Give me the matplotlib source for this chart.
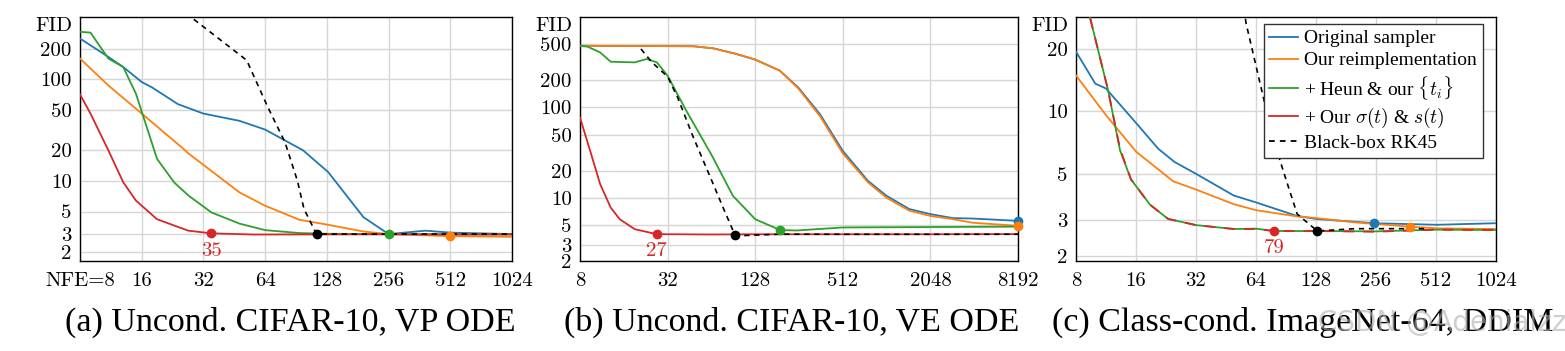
import matplotlib
matplotlib.use("Agg")
import matplotlib.pyplot as plt
from matplotlib.lines import Line2D
from matplotlib.ticker import FixedLocator, NullLocator

plt.rcParams['font.family'] = ['Liberation Serif', 'DejaVu Serif']
plt.rcParams['mathtext.fontset'] = 'cm'

BLUE, ORANGE, GREEN, RED = '#1f77b4', '#ff7f0e', '#2ca02c', '#d62728'

# ---- (a) Uncond. CIFAR-10, VP ODE
a_blue_x = [8, 11, 13, 16, 18, 24, 32, 48, 64, 98, 130, 193, 256, 387, 512, 1024]
a_blue_y = [252, 166, 132, 94, 83, 57, 46, 39, 32, 20, 12.2, 4.4, 3.0, 3.24, 3.1, 3.0]
a_orange_x = [8, 11, 16, 25, 27, 48, 64, 94, 130, 193, 256, 512, 1024]
a_orange_y = [160, 87, 46, 21.5, 18.7, 7.7, 5.7, 4.15, 3.7, 3.18, 3.0, 2.86, 2.82]
a_green_x = [8, 9, 11, 13, 15, 19, 23, 27, 35, 48, 64, 94, 128, 256, 512, 1024]
a_green_y = [293, 288, 160, 132, 72, 16.5, 9.7, 7.2, 4.9, 3.8, 3.28, 3.07, 3.02, 3.0, 2.98, 2.97]
a_red_x = [8, 9, 11, 13, 15, 19, 27, 35, 56, 128, 256, 512, 1024]
a_red_y = [71, 46, 20, 9.7, 6.4, 4.2, 3.24, 3.05, 2.97, 2.98, 2.98, 2.98, 2.98]
a_rk_x = [22, 28, 52, 66, 80, 92, 99, 114, 256, 512, 1024]
a_rk_y = [590, 405, 154, 53, 24, 10, 5.3, 3.0, 3.0, 3.0, 3.0]
a_best = {'blue': None, 'orange': (512, 2.86), 'green': (256, 3.0),
          'red': (35, 3.05), 'rk': (114, 3.0)}

# ---- (b) Uncond. CIFAR-10, VE ODE
b_blue_x = [8, 48, 66, 95, 128, 189, 253, 357, 512, 763, 1024, 1470, 2048, 2930, 4000, 8192]
b_blue_y = [480, 475, 450, 390, 338, 255, 166, 84, 33, 15.4, 10.5, 7.5, 6.6, 5.96, 5.9, 5.56]
b_orange_x = b_blue_x
b_orange_y = [480, 475, 450, 390, 338, 255, 162, 80, 31, 14.8, 10.0, 7.2, 6.3, 5.8, 5.3, 4.9]
b_green_x = [8, 9, 11, 13, 19, 23, 27, 32, 43, 64, 90, 128, 190, 246, 512, 8192]
b_green_y = [480, 470, 406, 320, 315, 343, 315, 224, 92, 30, 10.5, 5.8, 4.4, 4.35, 4.7, 4.8]
b_red_x = [8, 9.4, 11, 13, 15, 19, 27, 64, 128, 512, 2048, 8192]
b_red_y = [77, 33, 14.2, 7.8, 5.8, 4.5, 3.96, 3.93, 3.95, 3.95, 3.95, 3.97]
b_rk_x = [21, 25, 32, 37.5, 48, 63, 77, 93, 110, 190, 512, 8192]
b_rk_y = [443, 315, 219, 129, 47, 16.8, 7.8, 3.86, 3.83, 3.96, 3.95, 3.95]
b_best = {'blue': (8192, 5.56), 'orange': (8192, 4.9), 'green': (190, 4.4),
          'red': (27, 3.96), 'rk': (93, 3.86)}

# ---- (c) Class-cond. ImageNet-64, DDIM
c_blue_x = [8, 10, 11.3, 16, 20.7, 25, 32, 49.5, 64, 102, 128, 251, 518, 1024]
c_blue_y = [19.4, 13.6, 12.9, 8.8, 6.6, 5.7, 5.0, 3.93, 3.64, 3.14, 3.03, 2.89, 2.84, 2.89]
c_orange_x = [8, 11.3, 16, 24.6, 32, 49.5, 64, 102, 128, 198, 381, 518, 1024]
c_orange_y = [14.9, 9.6, 6.4, 4.6, 4.2, 3.57, 3.34, 3.12, 3.06, 2.92, 2.78, 2.73, 2.71]
c_green_x = [8, 9.4, 11.6, 13.3, 15.1, 18.8, 23.2, 32, 49.5, 64, 79, 128, 256, 512, 1024]
c_green_y = [53, 28.4, 12.6, 6.5, 4.7, 3.55, 3.03, 2.83, 2.71, 2.72, 2.65, 2.65, 2.64, 2.69, 2.68]
c_red_x = c_green_x
c_red_y = [53, 28.4, 12.6, 6.6, 4.7, 3.55, 3.03, 2.83, 2.71, 2.71, 2.65, 2.65, 2.63, 2.69, 2.68]
c_rk_x = [54, 57, 71.5, 84.4, 92, 103, 130, 200, 450]
c_rk_y = [40, 26.7, 10.5, 5.8, 4.47, 3.2, 2.65, 2.72, 2.72]
c_best = {'blue': (251, 2.89), 'orange': (381, 2.78), 'green': None,
          'red': (79, 2.65), 'rk': (130, 2.65)}

panels = [
    dict(rect=[80, 0, 432], x=[8, 1024], y=(1.63, 410), cap_x=290,
         xticks=[8, 16, 32, 64, 128, 256, 512, 1024], yticks=[2, 3, 5, 10, 20, 50, 100, 200],
         series=[(a_blue_x, a_blue_y), (a_orange_x, a_orange_y), (a_green_x, a_green_y),
                 (a_red_x, a_red_y), (a_rk_x, a_rk_y)], best=a_best, redlabel='35',
         caption='(a) Uncond. CIFAR-10, VP ODE'),
    dict(rect=[580, 0, 438], x=[8, 8192], y=(2, 1000), cap_x=792,
         xticks=[8, 32, 128, 512, 2048, 8192], yticks=[2, 3, 5, 10, 20, 50, 100, 200, 500],
         series=[(b_blue_x, b_blue_y), (b_orange_x, b_orange_y), (b_green_x, b_green_y),
                 (b_red_x, b_red_y), (b_rk_x, b_rk_y)], best=b_best, redlabel='27',
         caption='(b) Uncond. CIFAR-10, VE ODE'),
    dict(rect=[1076, 0, 420], x=[8, 1024], y=(1.9, 28.5), cap_x=1303,
         xticks=[8, 16, 32, 64, 128, 256, 512, 1024], yticks=[2, 3, 5, 10, 20],
         series=[(c_blue_x, c_blue_y), (c_orange_x, c_orange_y), (c_green_x, c_green_y),
                 (c_red_x, c_red_y), (c_rk_x, c_rk_y)], best=c_best, redlabel='79',
         caption='(c) Class-cond. ImageNet-64, DDIM'),
]

W, H = 1565, 351
fig = plt.figure(figsize=(W / 100, H / 100), dpi=100)

tick_font = dict(family='cmr10', size=15)
colors = [BLUE, ORANGE, GREEN, RED, 'black']
keys = ['blue', 'orange', 'green', 'red', 'rk']
dash = (0, (3.2, 2.8))

for i, p in enumerate(panels):
    left = p['rect'][0]
    width = p['rect'][2]
    ax = fig.add_axes([left / W, (H - 261) / H, width / W, 244 / H])
    ax.set_xscale('log', base=2)
    ax.set_yscale('log')
    ax.set_xlim(*p['x'])
    ax.set_ylim(*p['y'])
    ax.xaxis.set_major_locator(FixedLocator(p['xticks']))
    ax.yaxis.set_major_locator(FixedLocator(p['yticks']))
    ax.xaxis.set_minor_locator(NullLocator())
    ax.yaxis.set_minor_locator(NullLocator())
    xl = [str(v) for v in p['xticks']]
    if i == 0:
        xl[0] = 'NFE=8'
    ax.set_xticklabels(xl, fontdict=tick_font)
    ax.set_yticklabels([str(v) for v in p['yticks']], fontdict=tick_font)
    ax.tick_params(axis='x', length=0, pad=8)
    ax.tick_params(axis='y', length=0, pad=6)
    ax.grid(True, color='#d6d6d6', linewidth=1.0)
    ax.set_axisbelow(True)
    for s in ax.spines.values():
        s.set_linewidth(1.0)
    ax.text(-0.018, 0.965, 'FID', transform=ax.transAxes, ha='right', va='center',
            fontdict=tick_font)

    for j, ((xs, ys), col, key) in enumerate(zip(p['series'], colors, keys)):
        if key == 'rk':
            ax.plot(xs, ys, color=col, lw=1.2, linestyle=dash, zorder=5)
        elif key == 'red' and i == 2:
            ax.plot(xs, ys, color=col, lw=1.3, linestyle=(0, (6, 5)), zorder=4)
        else:
            ax.plot(xs, ys, color=col, lw=1.3, zorder=3 + j * 0.1)
        b = p['best'][key]
        if b is not None:
            ax.plot([b[0]], [b[1]], 'o', color=col, ms=6, zorder=6, clip_on=False)
    rb = p['best']['red']
    ax.annotate(p['redlabel'], rb, xytext=(0, -6), textcoords='offset points',
                ha='center', va='top', color=RED, fontfamily='cmr10', fontsize=15)

    fig.text(p['cap_x'] / W, (H - 322) / H, p['caption'], ha='center', va='center',
             fontsize=24.5)

    if i == 2:
        handles = [Line2D([], [], color=c, lw=1.3) for c in colors[:4]]
        handles.append(Line2D([], [], color='black', lw=1.3, linestyle=dash))
        labels = ['Original sampler', 'Our reimplementation', r'+ Heun & our $\{t_i\}$',
                  r'+ Our $\sigma(t)$ & $s(t)$', 'Black-box RK45']
        leg = ax.legend(handles, labels, loc='upper right',
                        bbox_to_anchor=((1483 - 1076) / 420, (261 - 24) / 244),
                        borderaxespad=0, fontsize=14, handlelength=1.45,
                        handletextpad=0.35, labelspacing=0.22, borderpad=0.3,
                        fancybox=False, framealpha=1, edgecolor='#333333')
        leg.get_frame().set_linewidth(1.0)
        leg.set_zorder(10)

fig.text(1318 / W, (H - 323) / H, 'CSDN @Adenialzz', ha='left', va='center',
         fontsize=20, family='DejaVu Sans', color='#b0b0b0', alpha=0.6)

fig.savefig('out.png', dpi=100)
